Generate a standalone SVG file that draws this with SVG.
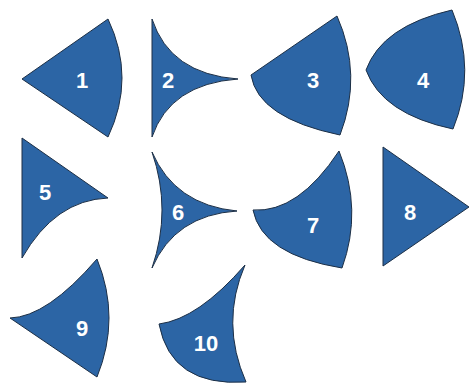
<svg xmlns="http://www.w3.org/2000/svg" width="469" height="383" viewBox="0 0 469 383">
<style>
.s{fill:#2c65a5;stroke:#1c2f46;stroke-width:1;stroke-linejoin:miter}
.t{fill:#ffffff;font-family:"Liberation Sans",Arial,sans-serif;font-weight:bold;font-size:22px;text-anchor:middle}
</style>
<rect width="469" height="383" fill="#ffffff"/>
<g id="node1"><path class="s" d="M22,79 L108,19 Q136,78 108,137 Z"/><text class="t" x="82" y="88">1</text></g>
<g id="node2"><path class="s" d="M152,19 L152,137 Q170,84 238,79 Q170,74 152,19 Z"/><text class="t" x="168" y="88">2</text></g>
<g id="node3"><path class="s" d="M251,75 L337,16 Q363,75 340,135 Q258,118 251,75 Z"/><text class="t" x="313" y="88">3</text></g>
<g id="node4"><path class="s" d="M366,70 Q382,26 452,10 Q477,70 453,129 Q382,114 366,70 Z"/><text class="t" x="423" y="88">4</text></g>
<g id="node5"><path class="s" d="M22,138 L108,198 Q55,200 22,258 Z"/><text class="t" x="45" y="200">5</text></g>
<g id="node6"><path class="s" d="M152,152 Q175,205 237,211 Q175,215 152,268 Q172,210 152,152 Z"/><text class="t" x="178" y="220">6</text></g>
<g id="node7"><path class="s" d="M253,210 Q298,213 339,151 Q363,210 342,268 Q262,255 253,210 Z"/><text class="t" x="313" y="233">7</text></g>
<g id="node8"><path class="s" d="M383,147 L469,207 L383,266 Z"/><text class="t" x="410" y="220">8</text></g>
<g id="node9"><path class="s" d="M10,318 Q47,317 97,259 Q121,318 97,377 Z"/><text class="t" x="82" y="336">9</text></g>
<g id="node10"><path class="s" d="M159,324 Q198,319 245,265 Q220,323 246,382 Q171,387 159,324 Z"/><text class="t" x="206" y="351">10</text></g>
</svg>
